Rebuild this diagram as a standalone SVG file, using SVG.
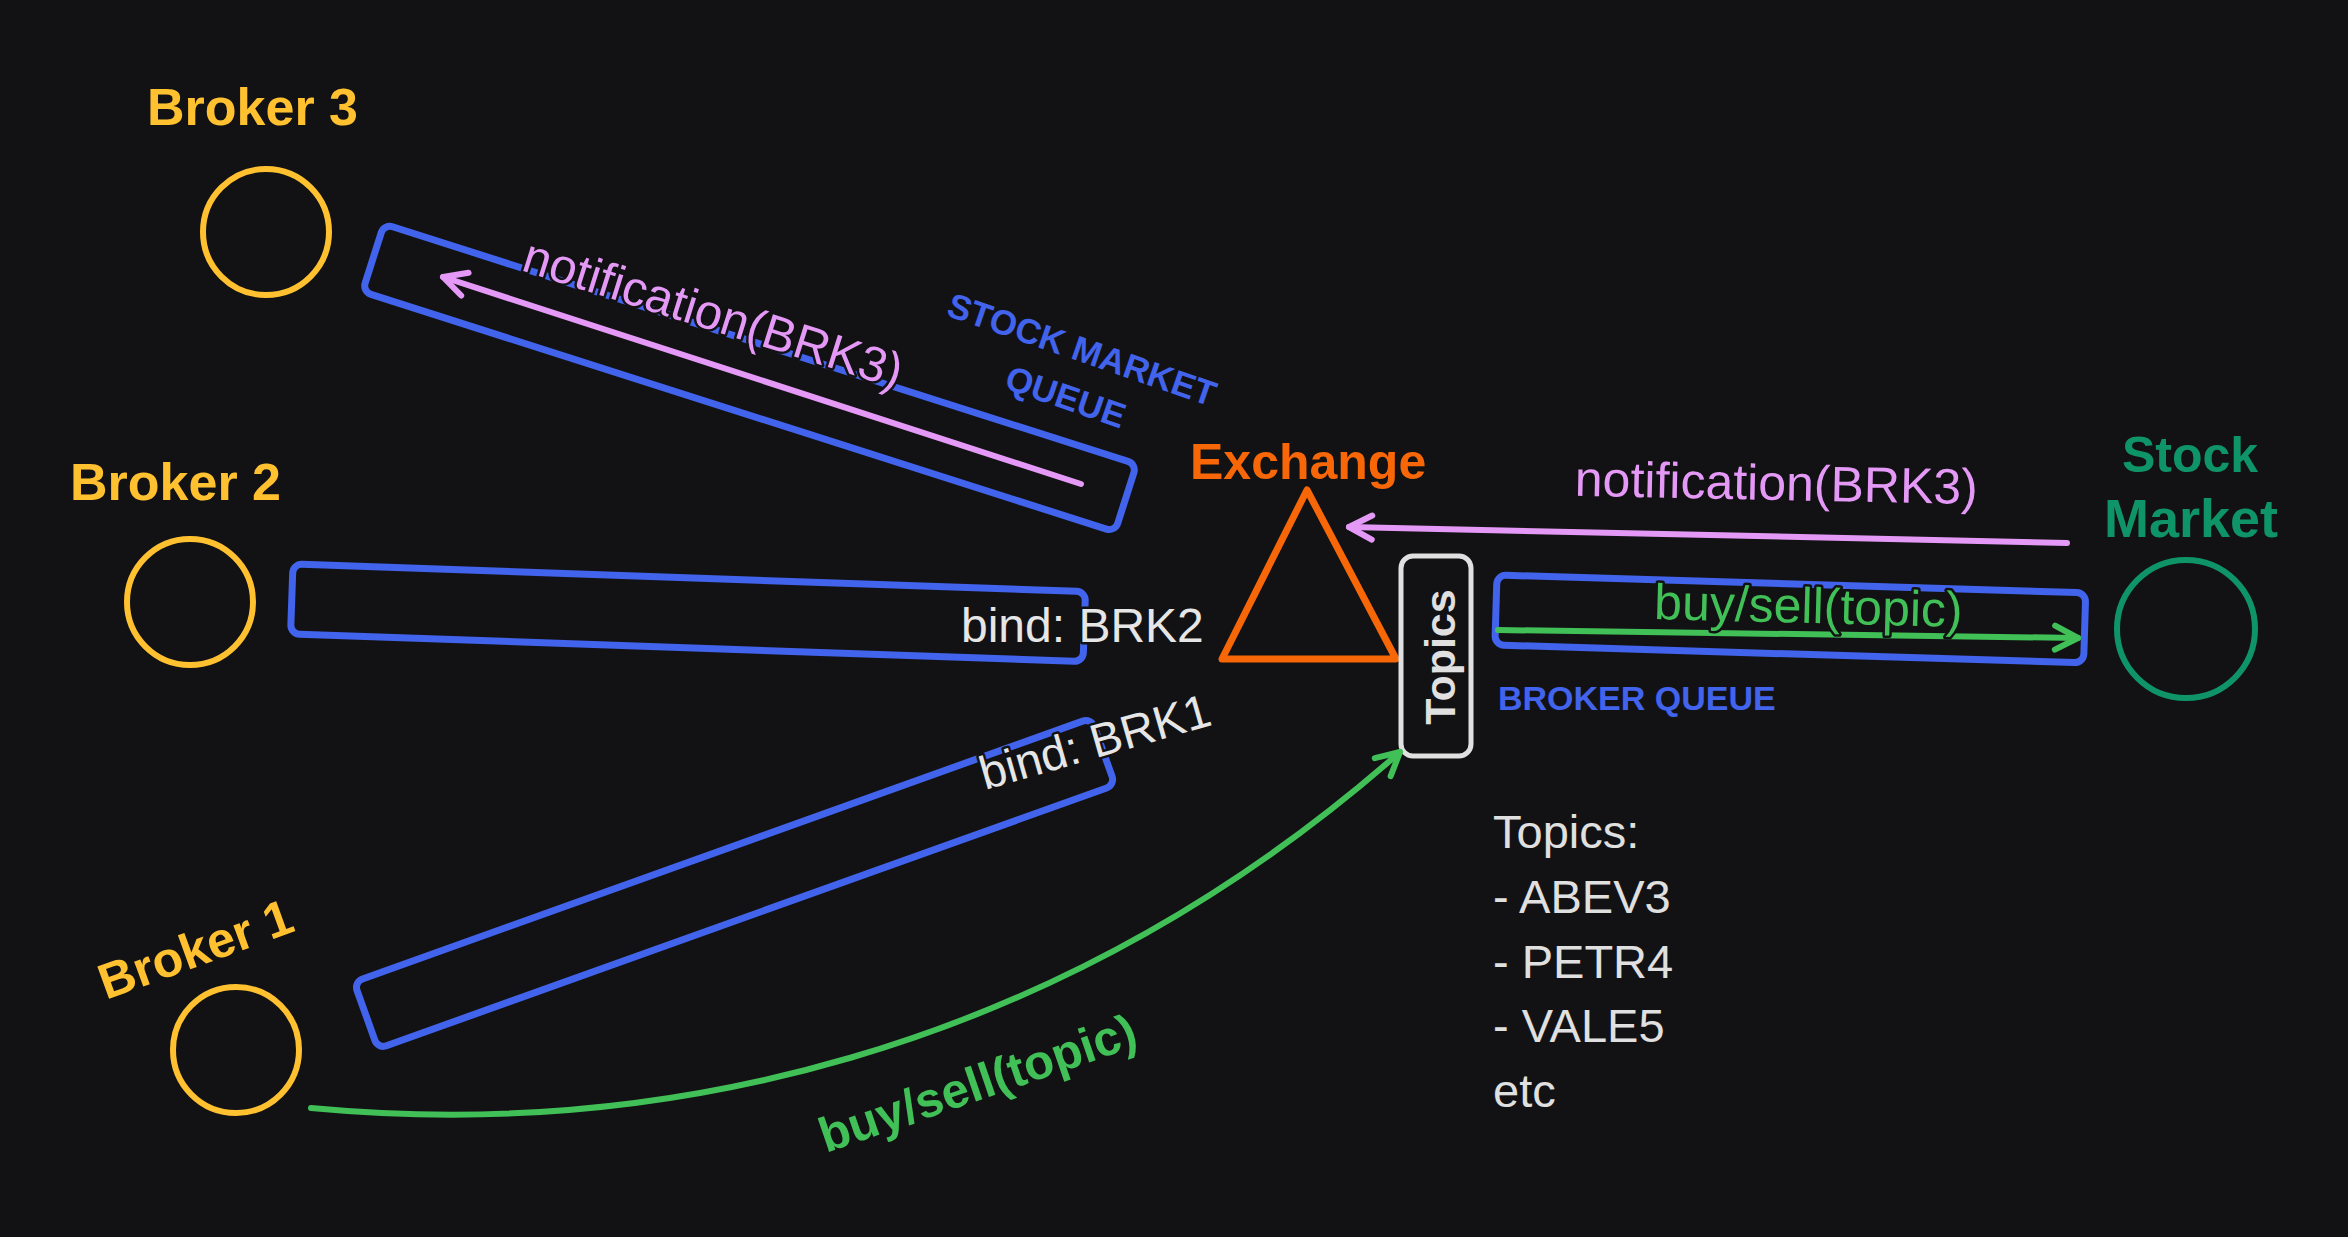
<svg xmlns="http://www.w3.org/2000/svg" width="2348" height="1237" viewBox="0 0 2348 1237">
<style>
.hand{font-family:"Liberation Sans",Arial,sans-serif;font-weight:bold}
.norm{font-family:"Liberation Sans",Arial,sans-serif}
.yellow{fill:#ffc12f}
.queue{fill:none;stroke:#4263eb;stroke-width:7}
.circ{fill:none;stroke-width:6}
.outl{stroke:#121214;stroke-width:5;paint-order:stroke;stroke-linejoin:round}
.conn{fill:none;stroke-width:6;stroke-linecap:round}
</style>
<defs>
<marker id="hPink" markerUnits="userSpaceOnUse" markerWidth="40" markerHeight="40" refX="0" refY="0" orient="auto" overflow="visible">
<path d="M -23 -12 L 0 0 L -23 12" fill="none" stroke="#e599f7" stroke-width="6" stroke-linecap="round" stroke-linejoin="round"/>
</marker>
<marker id="hGreen" markerUnits="userSpaceOnUse" markerWidth="40" markerHeight="40" refX="0" refY="0" orient="auto" overflow="visible">
<path d="M -23 -12 L 0 0 L -23 12" fill="none" stroke="#40c057" stroke-width="6" stroke-linecap="round" stroke-linejoin="round"/>
</marker>
</defs>
<rect width="2348" height="1237" fill="#121214"/>

<g id="broker3">
<text class="hand yellow" x="147" y="125" font-size="52">Broker 3</text>
<circle class="circ" cx="266" cy="232" r="63" stroke="#ffc12f"/>
</g>
<g id="broker2">
<text class="hand yellow" x="70" y="500" font-size="52">Broker 2</text>
<circle class="circ" cx="190" cy="602" r="63" stroke="#ffc12f"/>
</g>
<g id="broker1">
<text class="hand yellow" font-size="50" transform="translate(106 1000) rotate(-20)">Broker 1</text>
<circle class="circ" cx="236" cy="1050" r="63" stroke="#ffc12f"/>
</g>

<g id="stock-market-queue">
<rect class="queue" x="384" y="224" width="790" height="71" rx="9" transform="rotate(17.7 384 224)"/>
<g transform="translate(1078 361) rotate(19)" fill="#4263eb" class="hand" font-size="35" text-anchor="middle">
<text x="0" y="0">STOCK MARKET</text>
<text x="0" y="50">QUEUE</text>
</g>
</g>
<g id="broker2-queue">
<rect class="queue" x="293" y="564" width="793" height="70" rx="9" transform="rotate(2 293 564)"/>
</g>
<g id="broker1-queue">
<rect class="queue" x="354" y="982" width="783" height="71" rx="9" transform="rotate(-19.7 354 982)"/>
</g>
<g id="broker-queue">
<rect class="queue" x="1497" y="575" width="589" height="70" rx="9" transform="rotate(1.74 1497 575)"/>
<text class="hand" x="1498" y="710" font-size="34" fill="#4263eb">BROKER QUEUE</text>
</g>

<g id="exchange">
<text class="hand" x="1190" y="479" font-size="50" fill="#f76707">Exchange</text>
<path d="M 1307 490 L 1396 659 L 1222 659 Z" fill="none" stroke="#f76707" stroke-width="7" stroke-linejoin="round"/>
</g>
<g id="topics">
<rect x="1401" y="556" width="70" height="200" rx="12" fill="none" stroke="#e0e0e0" stroke-width="5"/>
<text class="hand" font-size="43" fill="#e0e0e0" text-anchor="middle" transform="translate(1455 657) rotate(-90)">Topics</text>
</g>
<g id="stock-market">
<text class="hand" font-size="50" fill="#0f9468" text-anchor="middle" x="2190" y="472">Stock</text>
<text class="hand" font-size="54" fill="#0f9468" text-anchor="middle" x="2191" y="537">Market</text>
<circle class="circ" cx="2186" cy="629" r="69" stroke="#0f9468"/>
</g>

<g id="connectors">
<line class="conn" x1="1081" y1="484" x2="443" y2="277" stroke="#e599f7" marker-end="url(#hPink)"/>
<text class="norm outl" font-size="49" fill="#e599f7" transform="translate(520 270) rotate(17.5)">notification(BRK3)</text>
<line class="conn" x1="2067" y1="543" x2="1349" y2="527" stroke="#e599f7" marker-end="url(#hPink)"/>
<text class="norm outl" font-size="50" fill="#e599f7" text-anchor="middle" transform="translate(1776 500) rotate(1.2)">notification(BRK3)</text>
<line class="conn" x1="1498" y1="630" x2="2078" y2="638" stroke="#40c057" marker-end="url(#hGreen)"/>
<text class="norm outl" font-size="50" fill="#40c057" text-anchor="middle" transform="translate(1808 623) rotate(1.5)">buy/sell(topic)</text>
<path class="conn" d="M 311 1108 C 650 1140 1050 1060 1400 752" stroke="#40c057" marker-end="url(#hGreen)"/>
<text class="hand" font-size="49" fill="#40c057" transform="translate(826 1153) rotate(-19)">buy/sell(topic)</text>
<text class="norm outl" font-size="48" fill="#e6e6e6" x="961" y="642">bind: BRK2</text>
<text class="norm outl" font-size="47" fill="#e6e6e6" transform="translate(985 790) rotate(-16)">bind: BRK1</text>
</g>

<g id="topics-list" class="norm" font-size="47" fill="#e0e0e0">
<text x="1493" y="848">Topics:</text>
<text x="1493" y="913">- ABEV3</text>
<text x="1493" y="978">- PETR4</text>
<text x="1493" y="1042">- VALE5</text>
<text x="1493" y="1107">etc</text>
</g>
</svg>
